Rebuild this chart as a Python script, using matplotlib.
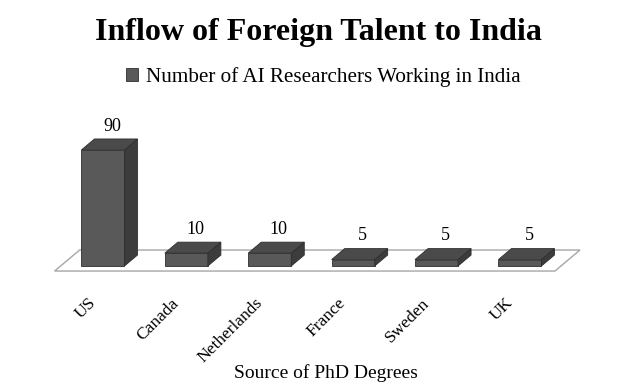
import numpy as np
import matplotlib
matplotlib.use("Agg")
import matplotlib.pyplot as plt
from matplotlib.patches import Polygon
import matplotlib.transforms as mtransforms

plt.rcParams['font.family'] = ['Liberation Serif', 'DejaVu Serif']

# data
countries = ['US', 'Canada', 'Netherlands', 'France', 'Sweden', 'UK']
researchers = [90, 10, 10, 5, 5, 5]
series_name = 'Number of AI Researchers Working in India'
title = 'Inflow of Foreign Talent to India'
xlabel = 'Source of PhD Degrees'

front_col = '#595959'
side_col = '#3c3c3c'
top_col = '#4a4a4a'
edge_col = '#2e2e2e'

fig = plt.figure(figsize=(6.39, 3.86), dpi=100)
W, H = 639, 386
# axes in pixel box: x 40..600, y(from top) 120..290
ax = fig.add_axes([40 / W, 1 - 290 / H, 560 / W, 170 / H])
ax.set_xlim(-0.755, 5.96)
ax.set_ylim(-18.6, 113.2)
for s in ax.spines.values():
    s.set_visible(False)
ax.set_yticks([])

x = np.arange(len(countries))
bw = 0.516        # bar width in category units
dx, dy = 0.156, 8.5   # depth offset of the 3d look

# floor
n = len(countries)
fx0, fx1 = -0.58, n - 0.58
fdx, fdy = 0.30, 16.3
fy0 = -3.9
floor = Polygon([(fx0, fy0), (fx1, fy0), (fx1 + fdx, fy0 + fdy), (fx0 + fdx, fy0 + fdy)],
                closed=True, facecolor='white', edgecolor='#a6a6a6', lw=1.0, zorder=1)
ax.add_patch(floor)

bars = ax.bar(x, researchers, width=bw, color=front_col, edgecolor=edge_col,
              lw=0.6, zorder=3, label=series_name)

for xi, v in zip(x, researchers):
    l, r = xi - bw / 2, xi + bw / 2
    side = Polygon([(r, 0), (r + dx, dy), (r + dx, v + dy), (r, v)], closed=True,
                   facecolor=side_col, edgecolor=edge_col, lw=0.6, zorder=3)
    top = Polygon([(l, v), (r, v), (r + dx, v + dy), (l + dx, v + dy)], closed=True,
                  facecolor=top_col, edgecolor=edge_col, lw=0.6, zorder=3)
    ax.add_patch(side)
    ax.add_patch(top)
    ax.text(xi + dx / 2 + 0.03, v + dy + 6.5, str(v), ha='center', va='baseline',
            fontsize=13, zorder=4)

ax.set_xticks(x)
ax.set_xticklabels(countries, rotation=45, ha='right', va='top', fontsize=12.5)
ax.tick_params(axis='x', length=0, pad=3.6)
shift = mtransforms.ScaledTranslation(-4 / 100, 0, fig.dpi_scale_trans)
for lab in ax.get_xticklabels():
    lab.set_transform(lab.get_transform() + shift)

fig.text(318 / W, 1 - 40 / H, title, ha='center', va='baseline',
         fontsize=23, fontweight='bold')
fig.text(326 / W, 1 - 378 / H, xlabel, ha='center', va='baseline', fontsize=14)

fig.legend(handles=[bars], labels=[series_name], loc='center',
           bbox_to_anchor=(323 / W, 1 - 77 / H), frameon=False, fontsize=15.2,
           handlelength=0.6, handleheight=0.6, handletextpad=0.35)

fig.savefig('out.png', dpi=100)
